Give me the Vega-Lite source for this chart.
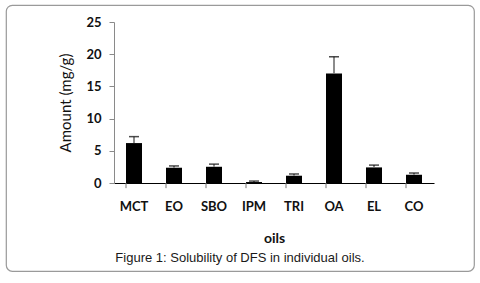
{
  "$schema": "https://vega.github.io/schema/vega-lite/v6.json",
  "width": 468,
  "height": 266,
  "autosize": {"type": "none"},
  "padding": {"left": 6, "top": 5, "right": 6, "bottom": 12},
  "background": "white",
  "config": {
    "view": {"stroke": "#9a9a9a", "strokeWidth": 1.2, "cornerRadius": 6},
    "font": "Lato"
  },
  "title": {
    "text": "Figure 1: Solubility of DFS in individual oils.",
    "orient": "bottom",
    "anchor": "middle",
    "frame": "group",
    "offset": -19,
    "font": "Liberation Sans",
    "fontSize": 13,
    "fontWeight": "normal",
    "color": "#1a1a1a"
  },
  "data": {
    "values": [
      {"oil": "MCT", "amount": 6.2, "upper": 7.2},
      {"oil": "EO", "amount": 2.37, "upper": 2.65},
      {"oil": "SBO", "amount": 2.52, "upper": 2.93},
      {"oil": "IPM", "amount": 0.15, "upper": 0.3},
      {"oil": "TRI", "amount": 1.13, "upper": 1.4},
      {"oil": "OA", "amount": 17.0, "upper": 19.6},
      {"oil": "EL", "amount": 2.42, "upper": 2.78},
      {"oil": "CO", "amount": 1.28, "upper": 1.55}
    ]
  },
  "layer": [
    {
      "mark": {"type": "bar", "color": "#000000"},
      "encoding": {
        "x": {
          "field": "oil",
          "type": "nominal",
          "sort": null,
          "scale": {"range": [108, 428], "paddingInner": 0.6, "paddingOuter": 0.3},
          "axis": {
            "title": "oils",
            "offset": -88,
            "ticks": false,
            "labelAngle": 0,
            "domainColor": "#000000",
            "domainWidth": 1,
            "labelPadding": 17,
            "labelFont": "Lato",
            "labelFontSize": 13,
            "labelFontWeight": "bold",
            "labelColor": "#111111",
            "titleFont": "Lato",
            "titleFontSize": 14,
            "titleFontWeight": "bold",
            "titleColor": "#111111",
            "titlePadding": 18,
            "grid": false
          }
        },
        "y": {
          "field": "amount",
          "type": "quantitative",
          "scale": {"domain": [0, 25], "range": [178, 17], "nice": false, "zero": true},
          "axis": {
            "title": "Amount (mg/g)",
            "offset": -108,
            "values": [0, 5, 10, 15, 20, 25],
            "grid": false,
            "domainColor": "#8a8a8a",
            "tickColor": "#8a8a8a",
            "tickSize": 5,
            "labelPadding": 8,
            "labelFont": "Lato",
            "labelFontSize": 13,
            "labelFontWeight": "bold",
            "labelColor": "#111111",
            "titleFont": "Lato",
            "titleFontSize": 15,
            "titleFontWeight": "normal",
            "titleColor": "#111111",
            "titlePadding": 12
          }
        }
      }
    },
    {
      "mark": {"type": "rule", "color": "#777777", "strokeWidth": 1},
      "encoding": {
        "x": {"field": "oil", "type": "nominal", "sort": null, "bandPosition": 0},
        "y": {"datum": 0},
        "y2": {"datum": -0.8}
      }
    },
    {
      "mark": {"type": "rule", "color": "#666666", "strokeWidth": 1.5},
      "encoding": {
        "x": {"field": "oil", "type": "nominal", "sort": null},
        "y": {"field": "amount", "type": "quantitative"},
        "y2": {"field": "upper"}
      }
    },
    {
      "mark": {"type": "tick", "color": "#000000", "thickness": 1.5, "size": 10, "orient": "horizontal"},
      "encoding": {
        "x": {"field": "oil", "type": "nominal", "sort": null},
        "y": {"field": "upper", "type": "quantitative"}
      }
    }
  ]
}
